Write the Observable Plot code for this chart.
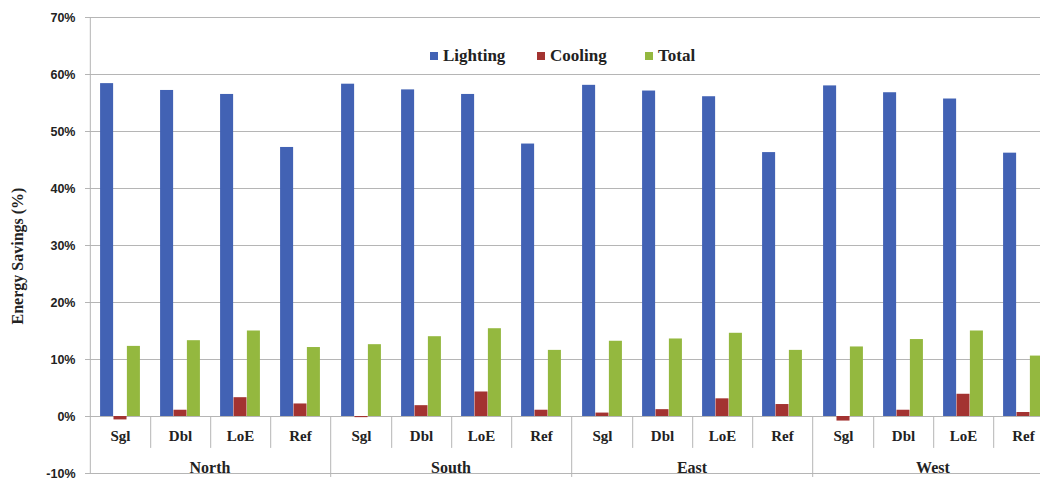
<!DOCTYPE html>
<html>
<head>
<meta charset="utf-8">
<script src="https://cdn.jsdelivr.net/npm/d3@7"></script>
<script src="https://cdn.jsdelivr.net/npm/@observablehq/plot@0.6"></script>
<style>
  html, body { margin: 0; padding: 0; overflow: hidden; background: #fff; }
  #wrap { position: relative; width: 1040px; height: 479px; overflow: hidden; }
  #chart svg { display: block; max-width: none !important; }
  #legend { position: absolute; top: 0; left: 0; width: 1040px; height: 0;
            font: bold 17px "Liberation Serif", "DejaVu Serif", serif; color: #222; white-space: nowrap; }
  #legend .item { position: absolute; top: 46px; display: flex; align-items: center; gap: 5px; }
  #legend .sw { width: 8px; height: 8px; display: inline-block; }
  #ytitle { position: absolute; left: 18px; top: 256px; transform: translate(-50%, -50%) rotate(-90deg);
            font: bold 16px "Liberation Serif", "DejaVu Serif", serif; color: #222; white-space: nowrap; }
</style>
</head>
<body>
<div id="wrap">
  <div id="chart"></div>
  <div id="legend"></div>
  <div id="ytitle">Energy Savings (%)</div>
</div>
<script>
// ---- data (values in %) ----
const directions = ["North", "South", "East", "West"];
const types = ["Sgl", "Dbl", "LoE", "Ref"];
const seriesNames = ["Lighting", "Cooling", "Total"];
const seriesColors = ["#4262b4", "#a33331", "#94b83f"];
const lighting = [58.4, 57.2, 56.5, 47.2,  58.3, 57.3, 56.5, 47.8,  58.1, 57.1, 56.1, 46.3,  58.0, 56.8, 55.7, 46.2];
const cooling  = [-0.6, 1.1, 3.3, 2.2,    -0.2, 1.9, 4.3, 1.1,    0.6, 1.2, 3.1, 2.1,    -0.8, 1.1, 3.9, 0.7];
const total    = [12.3, 13.3, 15.0, 12.1,  12.6, 14.0, 15.4, 11.6,  13.2, 13.6, 14.6, 11.6,  12.2, 13.5, 15.0, 10.6];
const yTicks = [-10, 0, 10, 20, 30, 40, 50, 60, 70];

// ---- table ----
const seriesValues = [lighting, cooling, total];
const rows = [];
directions.forEach((d, i) => types.forEach((t, j) => {
  const r = { direction: d, type: t };
  seriesNames.forEach((s, k) => r[s] = seriesValues[k][i * types.length + j]);
  rows.push(r);
}));

// ---- layout ----
const W = 1056, H = 479, ML = 88, MR = 2, MT = 17, MB = 6;
const bw = (W - ML - MR) / (directions.length * types.length);
const barW = 13.4;
const inset = (bw - barW) / 2;
const grid = "#b5b5b5";
const serif = '"Liberation Serif", "DejaVu Serif", serif';
const legendLefts = [430, 537, 645];

const barMarks = seriesNames.map((s, k) => Plot.barY(rows, {
  fx: "direction", x: "type", y1: 0, y2: s,
  fill: seriesColors[k], insetLeft: inset, insetRight: inset, dx: (k - 1) * barW
}));

const chart = Plot.plot({
  width: W, height: H,
  marginLeft: ML, marginRight: MR, marginTop: MT, marginBottom: MB,
  style: { fontFamily: '"Liberation Sans", Arial, sans-serif', background: "#fff", maxWidth: "none" },
  fx: { domain: directions, padding: 0, axis: null },
  x: { domain: types, padding: 0, axis: null },
  y: { domain: [-10, 70], axis: null },
  marks: [
    Plot.gridY(yTicks, { stroke: grid, strokeOpacity: 1 }),
    Plot.axisY(yTicks, {
      anchor: "left", tickSize: 4, tickPadding: 10, stroke: grid,
      tickFormat: d => d + "%", fontSize: 12.5, fontWeight: "bold", fill: "#222"
    }),
    ...barMarks,
    Plot.ruleX(rows, {
      fx: "direction", x: "type", dx: bw / 2,
      y1: 0, y2: d => d.type === types[types.length - 1] ? -10.7 : -5.6, stroke: grid
    }),
    Plot.ruleX(rows.slice(0, 1), { fx: "direction", x: "type", dx: -bw / 2, y1: -10, y2: 70, stroke: grid }),
    Plot.text(rows, {
      fx: "direction", x: "type", text: "type", frameAnchor: "bottom", dy: -37, lineAnchor: "middle",
      fontSize: 15, fontWeight: "bold", fontFamily: serif, fill: "#222"
    }),
    Plot.text(directions, {
      fx: d => d, text: d => d, frameAnchor: "bottom", dy: -6, lineAnchor: "middle",
      fontSize: 16, fontWeight: "bold", fontFamily: serif, fill: "#222"
    })
  ]
});
document.getElementById("chart").appendChild(chart);

// ---- legend ----
const legend = document.getElementById("legend");
seriesNames.forEach((s, k) => {
  const item = document.createElement("span");
  item.className = "item";
  item.style.left = legendLefts[k] + "px";
  item.innerHTML = `<span class="sw" style="background:${seriesColors[k]}"></span><span>${s}</span>`;
  legend.appendChild(item);
});
</script>
</body>
</html>
